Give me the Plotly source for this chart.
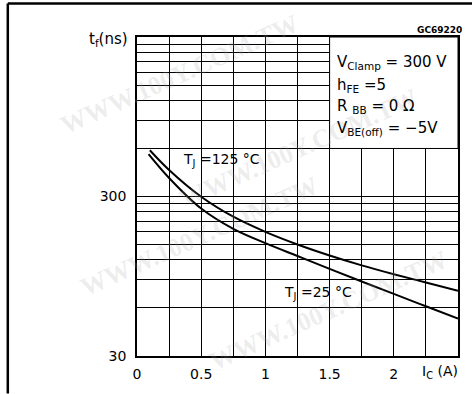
import plotly.graph_objects as go

# Collector current (A) and fall time (ns) along each curve
ic_125 = [0.10, 0.25, 0.50, 0.75, 1.00, 1.25, 1.50, 1.75, 2.00, 2.25, 2.50]
tf_125 = [585, 440, 299, 224, 180, 150, 128, 111, 97.7, 86.7, 77]

ic_25 = [0.09, 0.25, 0.50, 0.75, 1.00, 1.25, 1.50, 1.75, 2.00, 2.25, 2.50]
tf_25 = [553, 392, 252, 188, 153, 127, 105.5, 88, 73.5, 61.5, 51.5]

x_ticks = [0, 0.5, 1.0, 1.5, 2.0]
x_ticktext = ["0", "0.5", "1", "1.5", "2"]
x_grid = [0.25, 0.75, 1.25, 1.75, 2.25]
y_ticks = [30, 300]
y_ticktext = ["30", "300"]
y_grid = [60, 90, 120, 150, 180, 210, 240, 270,
          600, 900, 1200, 1500, 1800, 2100, 2400, 2700]

W, H = 472, 394
ML, MR, MT, MB = 137, 12, 37, 33
PW, PH = W - ML - MR, H - MT - MB


def px(xp):
    return (xp - ML) / PW


def py(yp):
    return (H - MB - yp) / PH


FONT = "DejaVu Sans"

fig = go.Figure()
for xs, ys in ((ic_125, tf_125), (ic_25, tf_25)):
    fig.add_trace(go.Scatter(x=xs, y=ys, mode="lines",
                             line=dict(color="black", width=2, shape="spline",
                                       smoothing=1.0),
                             showlegend=False, hoverinfo="skip"))

shapes = [
    # white condition box in the upper-right corner of the grid
    dict(type="rect", xref="x", yref="y", x0=1.5, x1=2.5, y0=600, y1=3000,
         fillcolor="white", line=dict(color="black", width=1), layer="above"),
    # page frame
    dict(type="line", xref="paper", yref="paper", x0=px(7), x1=px(7),
         y0=py(3), y1=py(H + 5), line=dict(color="black", width=2.5)),
    dict(type="line", xref="paper", yref="paper", x0=px(7), x1=px(W + 5),
         y0=py(3), y1=py(3), line=dict(color="black", width=2.5)),
]

ann = []


def text(xp, yp, s, size=14, xanchor="left", family=FONT, color="black", **kw):
    ann.append(dict(x=px(xp), y=py(yp), xref="paper", yref="paper", text=s,
                    showarrow=False, xanchor=xanchor, yanchor="middle",
                    font=dict(family=family, size=size, color=color), **kw))


# faint diagonal watermark
wm = "<b>WWW.100Y.COM.TW</b>"
for cx, cy in [(180, 75), (300, 150), (200, 240), (330, 315)]:
    text(cx, cy, wm, size=26, xanchor="center", family="Liberation Serif",
         color="rgba(160,160,160,0.2)", textangle=-24)

text(130, 40, "t<sub>f</sub>(ns)", size=15, xanchor="right")
text(466, 30, "<b>GC69220</b>", size=9, xanchor="right")
text(336, 63, "V<sub>Clamp</sub> = 300 V", size=15)
text(336, 86, "h<sub>FE</sub> =5", size=15)
text(336, 108, "R <sub>BB</sub> = 0 Ω", size=15)
text(336, 130, "V<sub>BE(off)</sub> = −5V", size=15)
text(181, 162, "T<sub>J</sub> =125 °C", size=14)
text(283, 297, "T<sub>J</sub> =25 °C", size=14)
text(422, 377, "I<sub>C</sub> (A)", size=14)

grid = dict(showgrid=True, gridcolor="black", gridwidth=1)
fig.update_layout(
    width=W, height=H,
    margin=dict(l=ML, r=MR, t=MT, b=MB, pad=0),
    paper_bgcolor="white", plot_bgcolor="white",
    shapes=shapes, annotations=ann,
    font=dict(family=FONT, size=14, color="black"),
    xaxis=dict(range=[0, 2.5], tickvals=x_ticks, ticktext=x_ticktext,
               minor=dict(tickvals=x_grid, ticks="", **grid), **grid,
               showline=True, linecolor="black", linewidth=1.5, mirror=True,
               ticks="", zeroline=False, ticklabelstandoff=4,
               tickfont=dict(size=14)),
    yaxis=dict(type="log", range=[1.4771, 3.4771], tickvals=y_ticks,
               ticktext=y_ticktext,
               minor=dict(tickvals=y_grid, ticks="", **grid), **grid,
               showline=True, linecolor="black", linewidth=1.5, mirror=True,
               ticks="", zeroline=False, ticklabelstandoff=6,
               tickfont=dict(size=14)),
)

fig.write_html("out.html")
